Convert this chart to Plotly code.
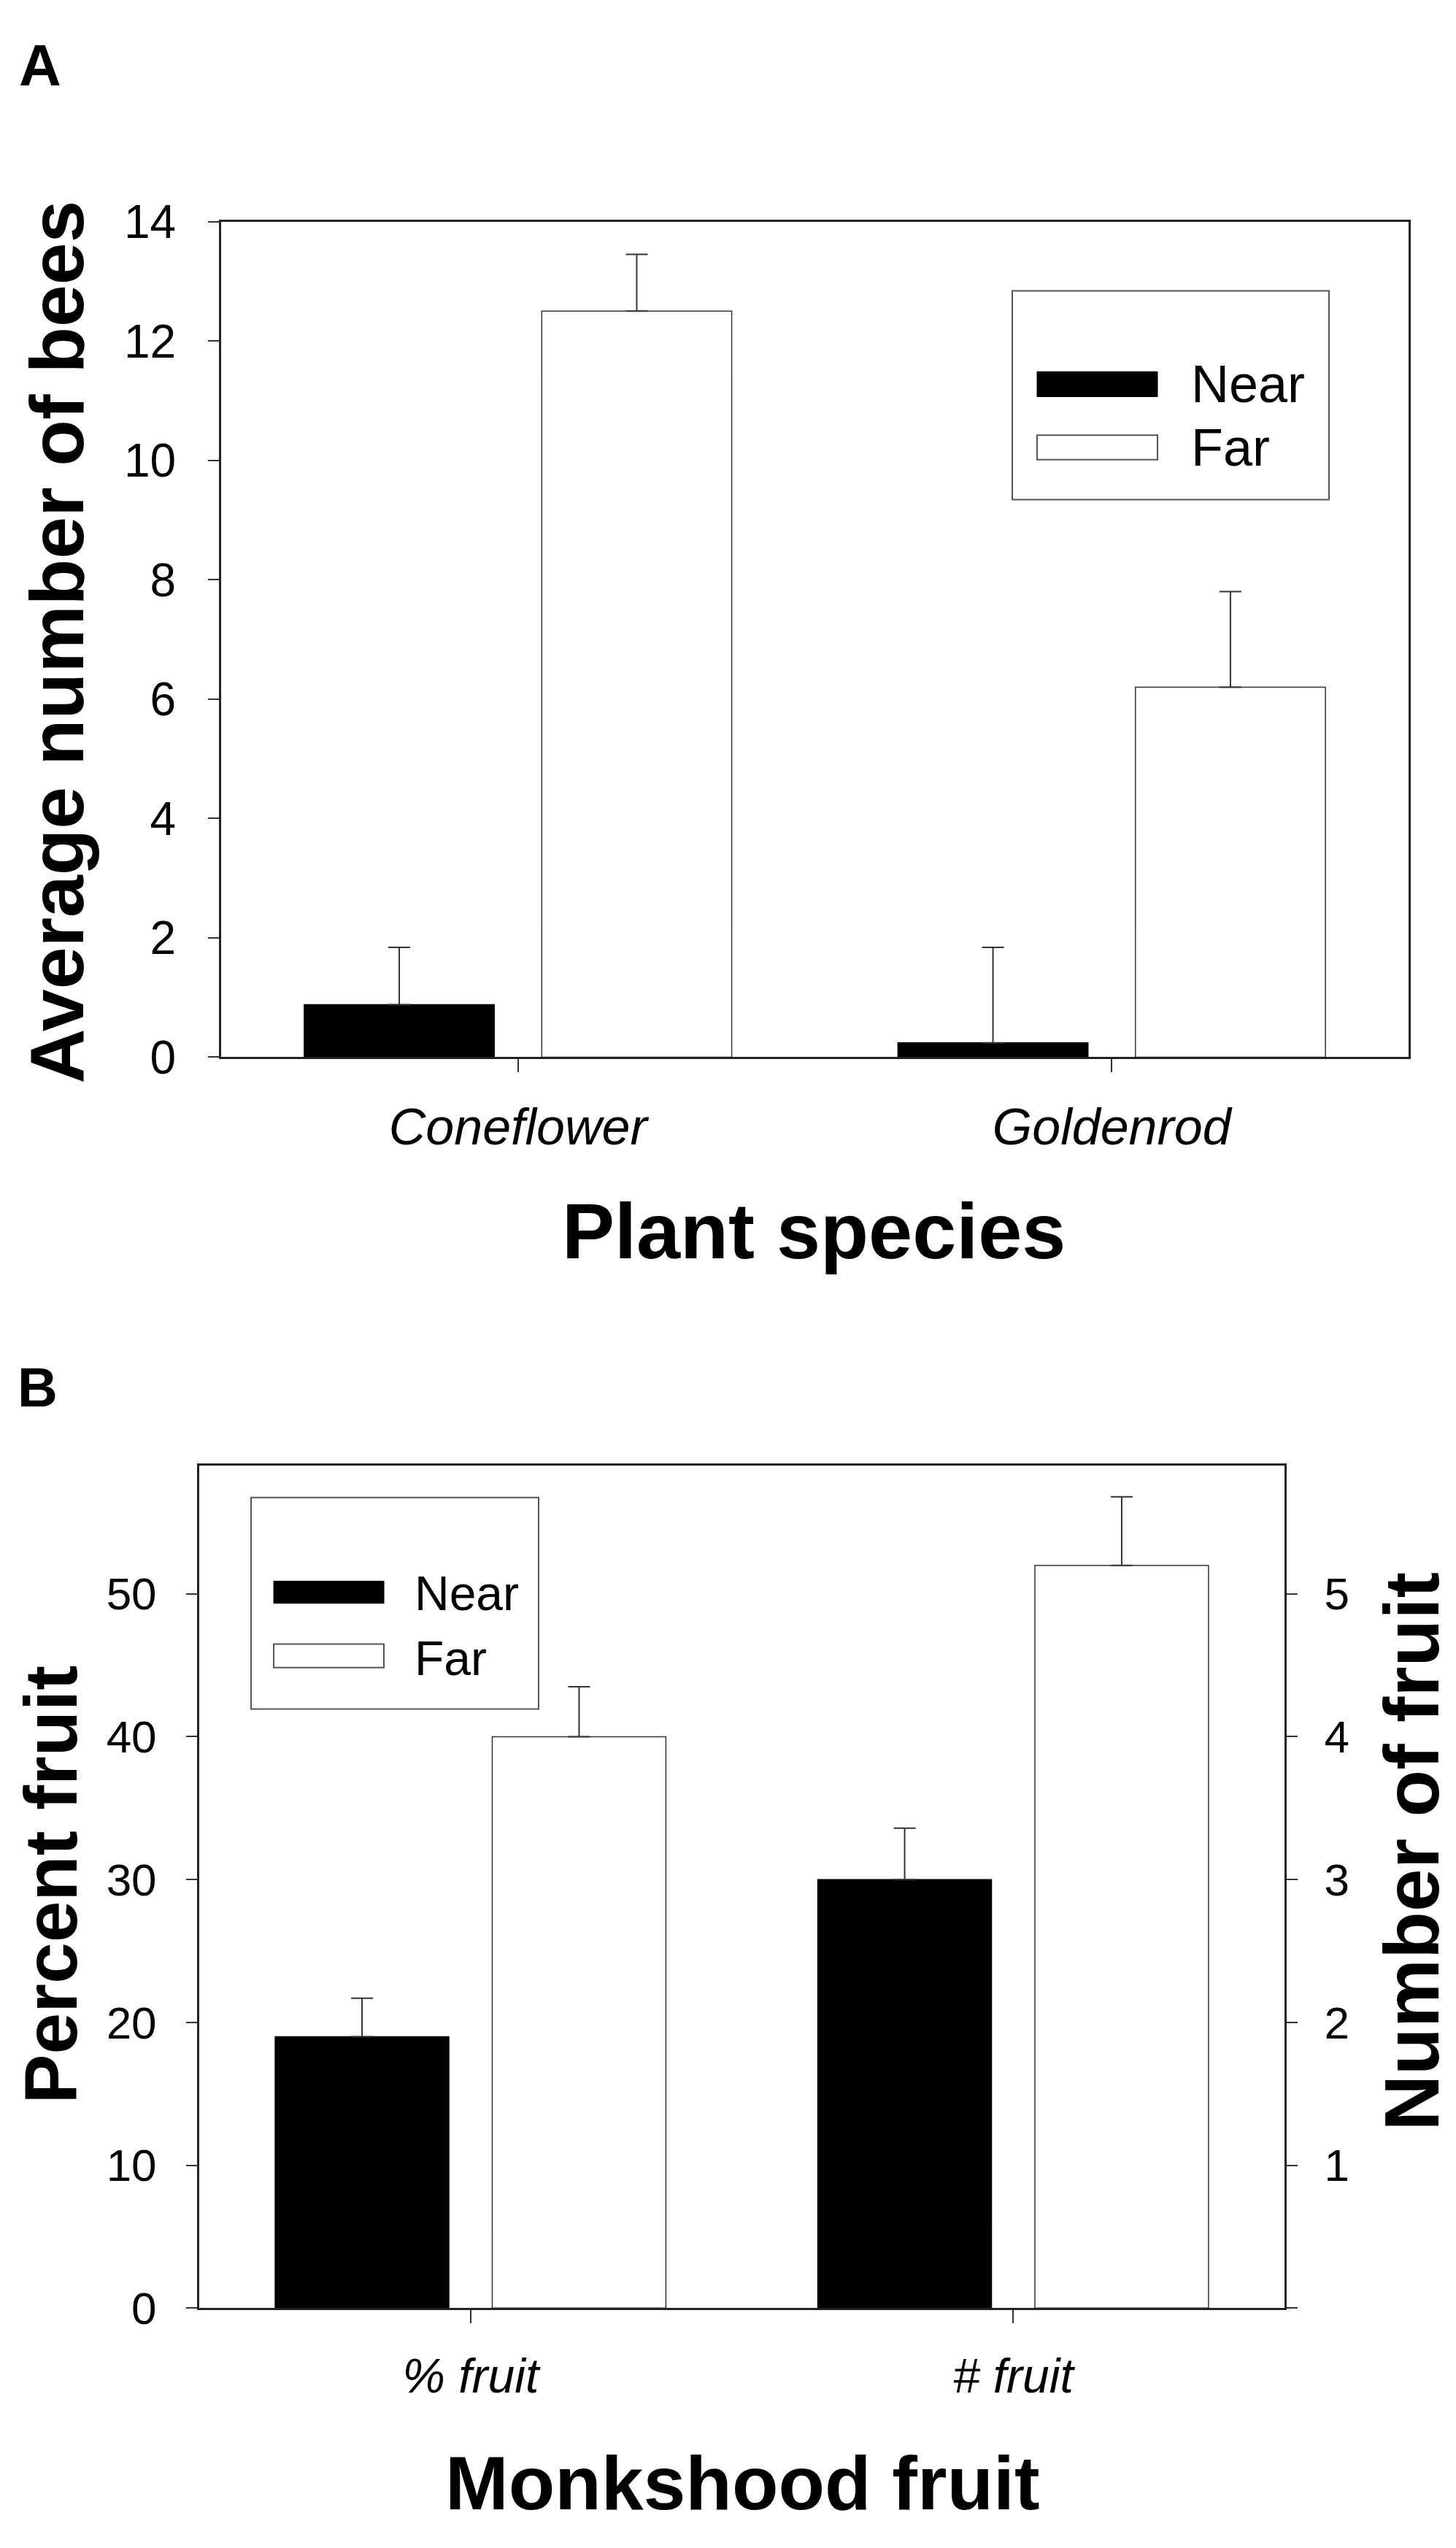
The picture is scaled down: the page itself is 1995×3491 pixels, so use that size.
import plotly.graph_objects as go

# tamanho da figura (pixels)
W, H = 1995, 3491

# dados do painel A
plants = ["Coneflower", "Goldenrod"]
bees_near = [0.88, 0.24]
bees_near_se = [0.96, 1.60]
bees_far = [12.5, 6.2]
bees_far_se = [0.95, 1.60]
bees_ticks = [0, 2, 4, 6, 8, 10, 12, 14]

# dados do painel B
fruit_cats = ["% fruit", "# fruit"]
pct_near = [19.0]
pct_near_se = [2.7]
pct_far = [40.0]
pct_far_se = [3.5]
num_near = [3.0]
num_near_se = [0.36]
num_far = [5.2]
num_far_se = [0.48]
pct_ticks = [0, 10, 20, 30, 40, 50]
num_ticks = [0, 1, 2, 3, 4, 5]
num_ticktext = ["", "1", "2", "3", "4", "5"]

FONT = "Liberation Sans, Arial, Helvetica, sans-serif"


# converte pixels da imagem para coordenadas do papel
def px(x):
    return x / W


def py(y):
    return 1 - y / H


def bar(x, y, se, near, xaxis, yaxis):
    return go.Bar(
        x=x, y=y,
        offset=-0.36 if near else 0.04, width=0.32,
        marker=dict(color="black" if near else "white",
                    line=dict(color="black" if near else "#333", width=1.5)),
        error_y=dict(type="data", symmetric=False, array=se, arrayminus=[0] * len(se),
                     color="#333", thickness=2, width=15),
        xaxis=xaxis, yaxis=yaxis, showlegend=False,
    )


fig = go.Figure()
fig.add_trace(bar(plants, bees_near, bees_near_se, True, "x", "y"))
fig.add_trace(bar(plants, bees_far, bees_far_se, False, "x", "y"))
fig.add_trace(bar([fruit_cats[0]], pct_near, pct_near_se, True, "x2", "y2"))
fig.add_trace(bar([fruit_cats[0]], pct_far, pct_far_se, False, "x2", "y2"))
fig.add_trace(bar([fruit_cats[1]], num_near, num_near_se, True, "x2", "y3"))
fig.add_trace(bar([fruit_cats[1]], num_far, num_far_se, False, "x2", "y3"))

axis_line = dict(showline=True, linecolor="#222", linewidth=3, showgrid=False, zeroline=False,
                 ticks="outside", tickcolor="#333", tickwidth=2)

fig.update_layout(
    width=W, height=H, margin=dict(l=0, r=0, t=0, b=0),
    paper_bgcolor="white", plot_bgcolor="white",
    barmode="overlay", showlegend=False,
    font=dict(family=FONT, color="black"),
    xaxis=dict(axis_line, domain=[px(295), px(1922)], anchor="y", type="category",
               categoryorder="array", categoryarray=plants, range=[-0.5, 1.5],
               mirror=True, ticklen=18, ticklabelstandoff=15,
               tickfont=dict(size=70, style="italic")),
    yaxis=dict(axis_line, domain=[py(1434), py(265)], anchor="x", range=[0, 14],
               tickvals=bees_ticks, mirror=True, ticklen=15, ticklabelstandoff=31,
               tickfont=dict(size=64)),
    xaxis2=dict(axis_line, domain=[px(265), px(1752)], anchor="y2", type="category",
                categoryorder="array", categoryarray=fruit_cats, range=[-0.5, 1.5],
                mirror=True, ticklen=18, ticklabelstandoff=15,
                tickfont=dict(size=66, style="italic")),
    yaxis2=dict(axis_line, domain=[py(3184), py(2005)], anchor="x2", range=[0, 59],
                tickvals=pct_ticks, mirror=True, ticklen=15, ticklabelstandoff=28,
                tickfont=dict(size=62)),
    yaxis3=dict(axis_line, overlaying="y2", side="right", anchor="x2", range=[0, 5.9],
                tickvals=num_ticks, ticktext=num_ticktext, ticklen=15, ticklabelstandoff=24,
                tickfont=dict(size=62)),
)

# títulos dos eixos e letras dos painéis
texts = [
    ("A", 47, 46, 80, 0),
    ("B", 43, 1896, 76, 0),
    ("Plant species", 1107, 1677, 108, 0),
    ("Average number of bees", 70, 853, 104, -90),
    ("Monkshood fruit", 1009, 3429, 104, 0),
    ("Percent fruit", 62, 2592, 102, -90),
    ("Number of fruit", 1926, 2545, 106, -90),
]
for t, x, y, s, ang in texts:
    fig.add_annotation(text=t, x=px(x), y=py(y), xref="paper", yref="paper",
                       xanchor="center", yanchor="middle", showarrow=False, textangle=ang,
                       font=dict(size=s, weight="bold", family=FONT, color="black"))

# legendas desenhadas (caixa, amostras e textos)
legends = [
    # caixa, amostra near, amostra far, x do texto, y near, y far, tamanho
    ((1379, 362, 1813, 654), (1413, 475, 1578, 510), (1413, 564, 1578, 598), 1622, 492, 581, 72),
    ((336, 2050, 730, 2346), (367, 2167, 518, 2198), (367, 2255, 518, 2288), 558, 2184, 2275, 66),
]
for box, sn, sf, tx, yn, yf, fs in legends:
    fig.add_shape(type="rect", xref="paper", yref="paper",
                  x0=px(box[0]), y0=py(box[1]), x1=px(box[2]), y1=py(box[3]),
                  line=dict(color="#555", width=2), fillcolor="white")
    fig.add_shape(type="rect", xref="paper", yref="paper",
                  x0=px(sn[0]), y0=py(sn[1]), x1=px(sn[2]), y1=py(sn[3]),
                  line=dict(color="black", width=1), fillcolor="black")
    fig.add_shape(type="rect", xref="paper", yref="paper",
                  x0=px(sf[0]), y0=py(sf[1]), x1=px(sf[2]), y1=py(sf[3]),
                  line=dict(color="#555", width=2), fillcolor="white")
    for lab, yy in (("Near", yn), ("Far", yf)):
        fig.add_annotation(text=lab, x=px(tx), y=py(yy), xref="paper", yref="paper",
                           xanchor="left", yanchor="middle", showarrow=False,
                           font=dict(size=fs, family=FONT, color="black"))

fig.write_html("out.html")
